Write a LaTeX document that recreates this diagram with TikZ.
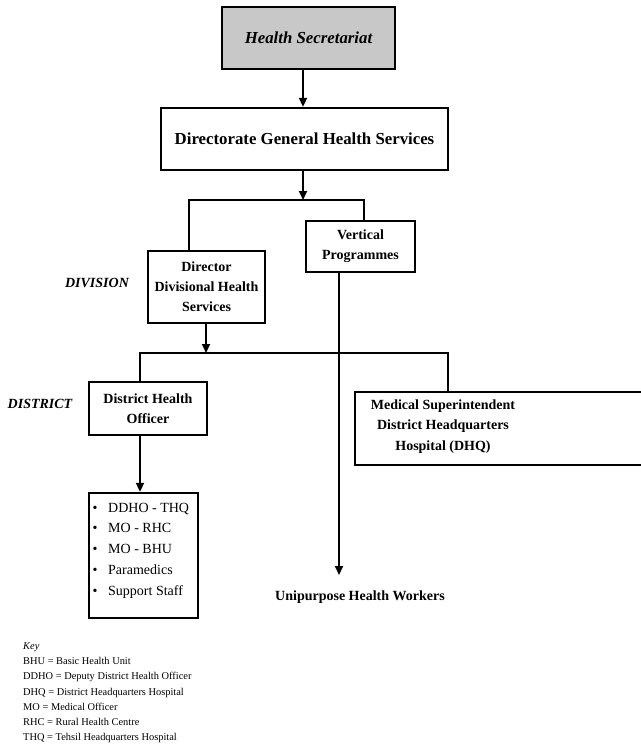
\documentclass[tikz,border=0pt]{standalone}
\usepackage{fontspec}
\setmainfont{Liberation Serif}
\usetikzlibrary{arrows.meta}
\definecolor{hsgray}{RGB}{200,200,200}
\begin{document}
\begin{tikzpicture}[x=1pt,y=-1pt,
  box/.style={draw=black,line width=2.4pt,inner sep=0pt,align=center,font=\fontsize{14}{20}\selectfont\bfseries},
  bigbox/.style={box,font=\fontsize{16.8}{20}\selectfont\bfseries},
  conn/.style={line width=2pt},
  arr/.style={line width=2pt,-{Triangle[length=9pt,width=8pt]}},
  lvl/.style={font=\fontsize{14}{20}\selectfont\bfseries\itshape},
  keytxt/.style={font=\fontsize{10.4}{15.2}\selectfont,align=left,inner sep=0pt,anchor=north west}]
\useasboundingbox (0,0) rectangle (640,746);
\node[bigbox,fill=hsgray,minimum width=173pt,minimum height=62pt] (hs) at (308.5,38) {\itshape Health Secretariat};
\node[bigbox,minimum width=287pt,minimum height=62pt] (dghs) at (304.5,139) {Directorate General Health Services};
\node[box,minimum width=117pt,minimum height=72pt] (ddhs) at (206.5,287) {Director\\Divisional Health\\Services};
\node[box,minimum width=109pt,minimum height=51pt] (vp) at (360.5,246.5) {Vertical\\Programmes};
\node[box,minimum width=118pt,minimum height=53pt] (dho) at (148,408.5) {District Health\\Officer};
\node[box,minimum width=290pt,minimum height=73pt] (ms) at (500,428.5) {};
\node[font=\fontsize{14}{20.5}\selectfont\bfseries,align=center] (mstext) at (443,426.5) {Medical Superintendent\\District Headquarters\\Hospital (DHQ)};
\node[box,minimum width=109pt,minimum height=125pt] (list) at (143.5,555.5) {};
\node[font=\fontsize{14}{20.7}\selectfont,align=left,inner sep=0pt,anchor=west] (items) at (92.5,550.5)
 {\makebox[15.5pt][l]{\textbullet}DDHO - THQ\\\makebox[15.5pt][l]{\textbullet}MO - RHC\\\makebox[15.5pt][l]{\textbullet}MO - BHU\\\makebox[15.5pt][l]{\textbullet}Paramedics\\\makebox[15.5pt][l]{\textbullet}Support Staff};
\node[lvl] (division) at (97,283) {DIVISION};
\node[lvl] (district) at (40,404) {DISTRICT};
\node[font=\fontsize{14}{20}\selectfont\bfseries] (uhw) at (360,597) {Unipurpose Health Workers};
\coordinate (j1) at (303,200);
\coordinate (j2) at (206,353);
\coordinate (vpend) at (339,575);
% connectors
\draw[arr] (hs.south -| j1) -- (dghs.north -| j1);
\draw[arr] (dghs.south -| j1) -- (j1);
\draw[conn] (189,0 |- ddhs.north) -- (189,200) -- (364,200) -- (364,0 |- vp.north);
\draw[arr] (ddhs.south -| j2) -- (j2);
\draw[conn] (140,0 |- dho.north) -- (140,353) -- (448,353) -- (448,0 |- ms.north);
\draw[arr] (vp.south -| vpend) -- (vpend);
\draw[arr] (dho.south -| 140,0) -- (list.north -| 140,0);
% key
\node[keytxt] (key) at (23,642.5) {\itshape Key\\BHU = Basic Health Unit\\DDHO = Deputy District Health Officer\\DHQ = District Headquarters Hospital\\MO = Medical Officer\\RHC = Rural Health Centre\\THQ = Tehsil Headquarters Hospital};
\end{tikzpicture}
\end{document}
